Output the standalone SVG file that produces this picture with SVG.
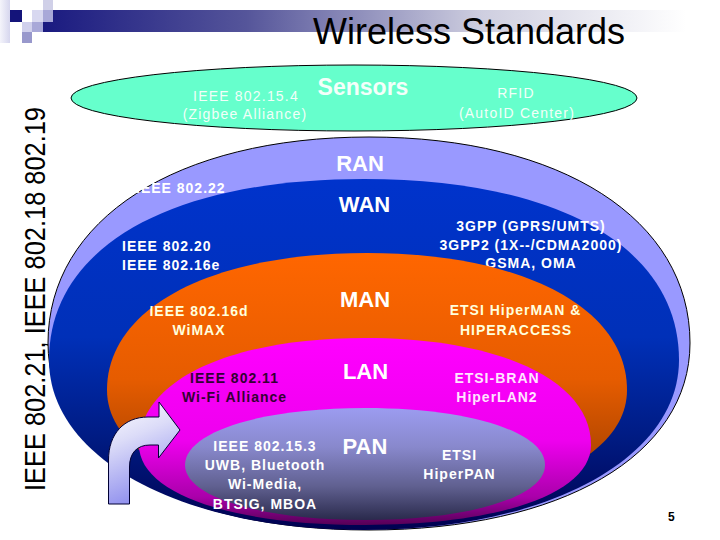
<svg xmlns="http://www.w3.org/2000/svg" width="720" height="540" viewBox="0 0 720 540">
  <defs>
    <linearGradient id="gBar" x1="0" y1="0" x2="1" y2="0">
      <stop offset="0" stop-color="#1a1a80"/>
      <stop offset="0.3" stop-color="#55559a"/>
      <stop offset="0.65" stop-color="#cfcfe0"/>
      <stop offset="0.95" stop-color="#ffffff"/>
    </linearGradient>
    <linearGradient id="gLeft" x1="0" y1="0" x2="1" y2="0">
      <stop offset="0" stop-color="#f4f4fb"/>
      <stop offset="1" stop-color="#d6d6ee"/>
    </linearGradient>
    <linearGradient id="gWan" x1="0" y1="0" x2="0" y2="1">
      <stop offset="0" stop-color="#0033cc"/>
      <stop offset="0.45" stop-color="#0030b8"/>
      <stop offset="0.75" stop-color="#001a80"/>
      <stop offset="1" stop-color="#000050"/>
    </linearGradient>
    <linearGradient id="gMan" x1="0" y1="0" x2="0" y2="1">
      <stop offset="0" stop-color="#ff6600"/>
      <stop offset="0.5" stop-color="#e65c00"/>
      <stop offset="0.8" stop-color="#b34700"/>
      <stop offset="1" stop-color="#662200"/>
    </linearGradient>
    <linearGradient id="gLan" x1="0" y1="0" x2="0" y2="1">
      <stop offset="0" stop-color="#ff00ff"/>
      <stop offset="0.55" stop-color="#ee00ee"/>
      <stop offset="0.85" stop-color="#aa00aa"/>
      <stop offset="1" stop-color="#550055"/>
    </linearGradient>
    <linearGradient id="gPan" x1="0" y1="0" x2="0" y2="1">
      <stop offset="0" stop-color="#9c9cf0"/>
      <stop offset="0.35" stop-color="#8888cc"/>
      <stop offset="0.7" stop-color="#606090"/>
      <stop offset="1" stop-color="#2a2a4c"/>
    </linearGradient>
    <linearGradient id="gArrow" x1="0" y1="0" x2="0.3" y2="1">
      <stop offset="0" stop-color="#ffffff"/>
      <stop offset="0.4" stop-color="#dcdcf8"/>
      <stop offset="1" stop-color="#9090ee"/>
    </linearGradient>
  </defs>
  <style>
    text { font-family: "Liberation Sans", Arial, sans-serif; }
    .sm { font-size: 14px; fill: #f2fff9; letter-spacing: 1.2px; }
    .lb { font-size: 14px; font-weight: bold; fill: #ffffff; letter-spacing: 1px; }
    .big { font-size: 22px; font-weight: bold; fill: #ffffff; text-anchor: middle; }
    .mid { text-anchor: middle; }
    .cream { fill: #ffffdd; }
    .pink { fill: #ffe4ff; }
    .dark { fill: #330033; }
  </style>
  <rect x="0" y="0" width="720" height="540" fill="#ffffff"/>

  <g id="header">
    <rect x="0" y="0" width="10" height="43" fill="url(#gLeft)"/>
    <rect x="43" y="10" width="677" height="22" fill="url(#gBar)"/>
    <rect x="10" y="10" width="12" height="12" fill="#14147a"/>
    <rect x="22" y="22" width="10" height="10" fill="#d0d0ec"/>
    <rect x="32" y="10" width="11" height="12" fill="#d8d8f0"/>
    <rect x="32" y="22" width="11" height="10" fill="#a8a8d8"/>
    <rect x="43" y="0" width="10" height="10" fill="#d0d0e8"/>
    <rect x="43" y="10" width="10" height="12" fill="#a8a8d8"/>
    <rect x="22" y="32" width="10" height="11" fill="#9898cc"/>
    <text x="313" y="43.5" font-size="36" fill="#000000">Wireless Standards</text>
    <text transform="translate(45,491) rotate(-90)" x="0" y="0" font-size="29" fill="#000000" textLength="384" lengthAdjust="spacingAndGlyphs">IEEE 802.21, IEEE 802.18 802.19</text>
  </g>

  <g id="node-sensors">
    <ellipse cx="354" cy="98" rx="283" ry="33" fill="#66ffcc" stroke="#000000" stroke-width="1"/>
    <text class="sm mid" x="246" y="100.5">IEEE 802.15.4</text>
    <text class="sm mid" x="245" y="119">(Zigbee Alliance)</text>
    <text x="363" y="95" font-size="23" font-weight="bold" fill="#f4fffa" text-anchor="middle">Sensors</text>
    <text class="sm mid" x="516" y="98">RFID</text>
    <text class="sm mid" x="517" y="118">(AutoID Center)</text>
  </g>

  <g id="node-ran">
    <path d="M 48,343 C 48,219.4 176.4,137 369,137 C 561.6,137 690,219.4 690,343 C 690,455.2 561.6,530 369,530 C 176.4,530 48,455.2 48,343 Z" fill="#9999ff" stroke="#000000" stroke-width="1"/>
    <text class="big" x="360" y="170.5">RAN</text>
    <text class="lb" x="136" y="193">IEEE 802.22</text>
  </g>

  <g id="node-wan">
    <path d="M 49,360 C 49,247.8 168.7,179 364,179 C 559.3,179 679,247.8 679,360 C 679,458.6 546.7,530 364,530 C 181.3,530 49,458.6 49,360 Z" fill="url(#gWan)"/>
    <text class="big" x="364.5" y="211.5">WAN</text>
    <text class="lb" x="122" y="251">IEEE 802.20</text>
    <text class="lb" x="122" y="270">IEEE 802.16e</text>
    <text class="lb mid" x="531" y="231">3GPP (GPRS/UMTS)</text>
    <text class="lb mid" x="531" y="249.5">3GPP2 (1X--/CDMA2000)</text>
    <text class="lb mid" x="531" y="268">GSMA, OMA</text>
  </g>

  <g id="node-man">
    <path d="M 107,390 C 107,307.8 211,253 367,253 C 523,253 627,307.8 627,390 C 627,459 523,505 367,505 C 211,505 107,459 107,390 Z" fill="url(#gMan)"/>
    <text class="big" x="365" y="306.5">MAN</text>
    <text class="lb mid cream" x="199" y="315.5">IEEE 802.16d</text>
    <text class="lb mid cream" x="199" y="335">WiMAX</text>
    <text class="lb mid cream" x="515.5" y="314.5">ETSI HiperMAN &amp;</text>
    <text class="lb mid cream" x="516" y="335">HIPERACCESS</text>
  </g>

  <g id="node-lan">
    <path d="M 139,445 C 139,380.8 229.4,338 365,338 C 500.6,338 591,380.8 591,445 C 591,493 500.6,525 365,525 C 229.4,525 139,493 139,445 Z" fill="url(#gLan)"/>
    <text class="big" x="365.5" y="379">LAN</text>
    <text class="lb mid dark" x="234.5" y="383.3">IEEE 802.11</text>
    <text class="lb mid dark" x="234.5" y="402">Wi-Fi Alliance</text>
    <text class="lb mid pink" x="497" y="383">ETSI-BRAN</text>
    <text class="lb mid pink" x="497" y="401.5">HiperLAN2</text>
  </g>

  <g id="node-pan">
    <path d="M 185,465 C 185,431.9 260.6,408 365,408 C 469.4,408 545,431.9 545,465 C 545,496.9 469.4,520 365,520 C 260.6,520 185,496.9 185,465 Z" fill="url(#gPan)"/>
    <text class="big" x="365" y="454">PAN</text>
    <text class="lb mid" x="265" y="451">IEEE 802.15.3</text>
    <text class="lb mid" x="265" y="470">UWB, Bluetooth</text>
    <text class="lb mid" x="265" y="489">Wi-Media,</text>
    <text class="lb mid" x="265" y="508.5">BTSIG, MBOA</text>
    <text class="lb mid" x="459.5" y="460">ETSI</text>
    <text class="lb mid" x="459.5" y="478.5">HiperPAN</text>
  </g>

  <g id="connectors">
    <path d="M 108.5,504 L 108.5,460 C 108.5,434 124,417 148,417 L 159,417 L 159,402 L 180,430 L 158.5,458 L 158.5,445 L 150,445 C 137,445 129.5,453 129.5,467 L 129.5,504 Z" fill="url(#gArrow)" stroke="#000033" stroke-width="1"/>
  </g>

  <text x="668" y="520.5" font-size="12" font-weight="bold" fill="#000000">5</text>
</svg>
